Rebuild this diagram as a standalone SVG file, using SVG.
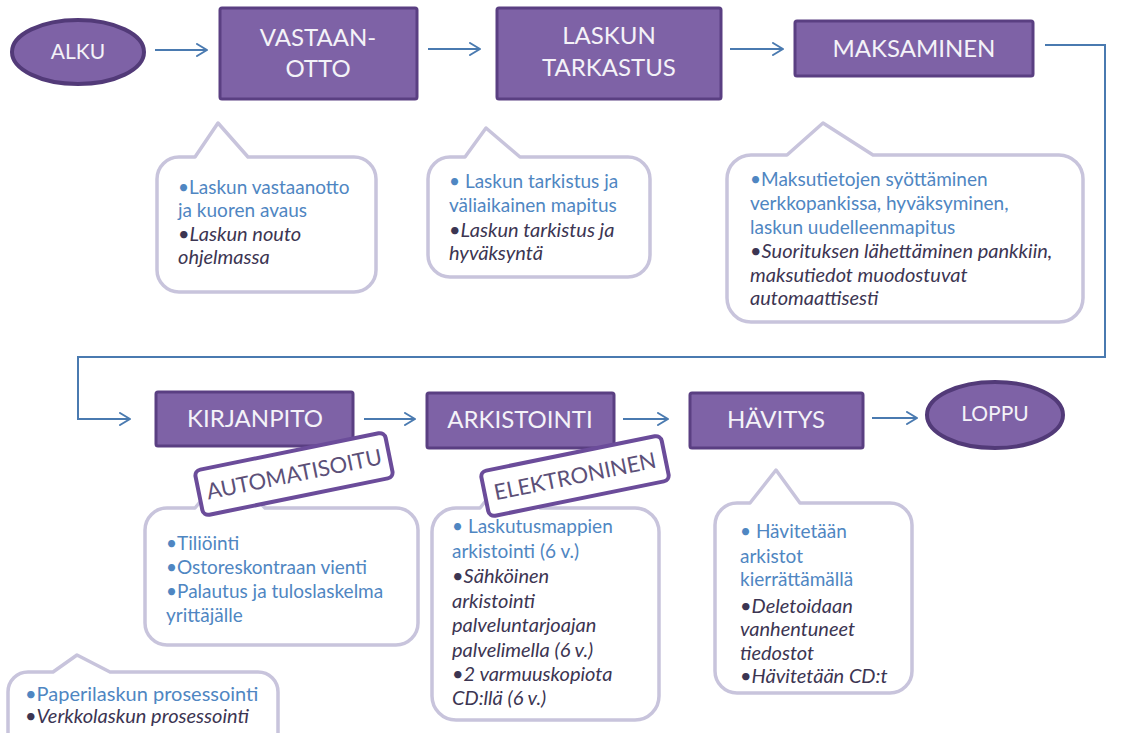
<svg xmlns="http://www.w3.org/2000/svg" width="1138" height="733" viewBox="0 0 1138 733">
  <defs>
    <marker id="arrow" viewBox="0 0 12 14" refX="11" refY="7" markerWidth="12" markerHeight="14" markerUnits="userSpaceOnUse" orient="auto">
      <path d="M1,1 L11,7 L1,13" fill="none" stroke="#4a7ab0" stroke-width="2" stroke-linecap="round" stroke-linejoin="round"/>
    </marker>
    <style>
      .box { fill: #7e62a6; stroke: #5a3f82; stroke-width: 3; }
      .term { fill: #7e62a6; stroke: #523a78; stroke-width: 4; }
      .boxtxt { font-family: Lato, "Liberation Sans", sans-serif; font-size: 24px; fill: #f4f2f8; text-anchor: middle; }
      .termtxt { font-family: Lato, "Liberation Sans", sans-serif; font-size: 21px; fill: #f4f2f8; text-anchor: middle; }
      .link { fill: none; stroke: #4a7ab0; stroke-width: 2; }
      .bubble { fill: #ffffff; stroke: #c8c4dc; stroke-width: 3.5; stroke-linejoin: round; }
      .note { font-family: Lato, "Liberation Sans", sans-serif; font-size: 19px; }
      .b { fill: #4f86c2; }
      .i { fill: #3c3552; font-style: italic; font-size: 20px; }
      .big { font-size: 20px; }
      .tag { fill: #ffffff; stroke: #6b4c9a; stroke-width: 4; }
      .tagtxt { font-family: Lato, "Liberation Sans", sans-serif; font-size: 22px; fill: #5c5078; text-anchor: middle; }
    </style>
  </defs>

  <!-- connectors -->
  <g id="connectors">
    <line class="link" x1="155" y1="50" x2="207" y2="50" marker-end="url(#arrow)"/>
    <line class="link" x1="428" y1="49" x2="480" y2="49" marker-end="url(#arrow)"/>
    <line class="link" x1="730" y1="49" x2="783" y2="49" marker-end="url(#arrow)"/>
    <polyline class="link" points="1045,45 1105,45 1105,357 78,357 78,419 130,419" marker-end="url(#arrow)"/>
    <line class="link" x1="364" y1="419" x2="415" y2="419" marker-end="url(#arrow)"/>
    <line class="link" x1="623" y1="419" x2="668" y2="419" marker-end="url(#arrow)"/>
    <line class="link" x1="872" y1="418" x2="917" y2="418" marker-end="url(#arrow)"/>
  </g>

  <!-- process row 1 -->
  <g id="alku">
    <ellipse class="term" cx="78" cy="52" rx="66" ry="32"/>
    <text class="termtxt" x="78" y="59">ALKU</text>
  </g>
  <g id="vastaanotto">
    <rect class="box" x="220" y="8" width="197" height="91" rx="2"/>
    <text class="boxtxt" x="318" y="46">VASTAAN-</text>
    <text class="boxtxt" x="318" y="77">OTTO</text>
  </g>
  <g id="tarkastus">
    <rect class="box" x="497" y="8" width="224" height="91" rx="2"/>
    <text class="boxtxt" x="609" y="44">LASKUN</text>
    <text class="boxtxt" x="609" y="76">TARKASTUS</text>
  </g>
  <g id="maksaminen">
    <rect class="box" x="795" y="21" width="238" height="55" rx="2"/>
    <text class="boxtxt" x="914" y="57">MAKSAMINEN</text>
  </g>

  <!-- notes row 1 -->
  <g id="note-vastaanotto">
    <path class="bubble" d="M179,157 L195,157 L218,123 L248,157 L354,157 A22,22 0 0 1 376,179 L376,270 A22,22 0 0 1 354,292 L179,292 A22,22 0 0 1 157,270 L157,179 A22,22 0 0 1 179,157 Z"/>
    <text class="note b" x="178" y="194">•Laskun vastaanotto</text>
    <text class="note b" x="178" y="217">ja kuoren avaus</text>
    <text class="note i" x="178" y="241">•Laskun nouto</text>
    <text class="note i" x="178" y="264">ohjelmassa</text>
  </g>
  <g id="note-tarkastus">
    <path class="bubble" d="M450,157 L465,157 L486,128 L520,157 L628,157 A22,22 0 0 1 650,179 L650,255 A22,22 0 0 1 628,277 L450,277 A22,22 0 0 1 428,255 L428,179 A22,22 0 0 1 450,157 Z"/>
    <text class="note b" x="449" y="188">• Laskun tarkistus ja</text>
    <text class="note b" x="449" y="212">väliaikainen mapitus</text>
    <text class="note i" x="449" y="237">•Laskun tarkistus  ja</text>
    <text class="note i" x="449" y="260">hyväksyntä</text>
  </g>
  <g id="note-maksaminen">
    <path class="bubble" d="M751,155 L787,155 L823,123 L873,155 L1059,155 A24,24 0 0 1 1083,179 L1083,298 A24,24 0 0 1 1059,322 L751,322 A24,24 0 0 1 727,298 L727,179 A24,24 0 0 1 751,155 Z"/>
    <text class="note b" x="750" y="186">•Maksutietojen syöttäminen</text>
    <text class="note b" x="750" y="210">verkkopankissa, hyväksyminen,</text>
    <text class="note b" x="750" y="234">laskun uudelleenmapitus</text>
    <text class="note i" x="750" y="258">•Suorituksen lähettäminen pankkiin,</text>
    <text class="note i" x="750" y="282">maksutiedot muodostuvat</text>
    <text class="note i" x="750" y="305">automaattisesti</text>
  </g>

  <!-- process row 2 -->
  <g id="kirjanpito">
    <rect class="box" x="156" y="392" width="197" height="54" rx="2"/>
    <text class="boxtxt" x="255" y="427">KIRJANPITO</text>
  </g>
  <g id="arkistointi">
    <rect class="box" x="427" y="393" width="187" height="55" rx="2"/>
    <text class="boxtxt" x="520" y="428">ARKISTOINTI</text>
  </g>
  <g id="havitys">
    <rect class="box" x="690" y="393" width="173" height="55" rx="2"/>
    <text class="boxtxt" x="776" y="428">HÄVITYS</text>
  </g>
  <g id="loppu">
    <ellipse class="term" cx="995" cy="415" rx="68" ry="33"/>
    <text class="termtxt" x="995" y="421">LOPPU</text>
  </g>

  <!-- notes row 2 -->
  <g id="note-kirjanpito">
    <path class="bubble" d="M167,508 L195,508 L228,468 L265,508 L396,508 A22,22 0 0 1 418,530 L418,623 A22,22 0 0 1 396,645 L167,645 A22,22 0 0 1 145,623 L145,530 A22,22 0 0 1 167,508 Z"/>
    <text class="note b" x="166" y="550">•Tiliöinti</text>
    <text class="note b" x="166" y="574">•Ostoreskontraan vienti</text>
    <text class="note b" x="166" y="598">•Palautus ja tuloslaskelma</text>
    <text class="note b" x="166" y="622">yrittäjälle</text>
  </g>
  <g id="note-arkistointi">
    <path class="bubble" d="M456,508 L480,508 L512,468 L540,508 L635,508 A24,24 0 0 1 659,532 L659,696 A24,24 0 0 1 635,720 L456,720 A24,24 0 0 1 432,696 L432,532 A24,24 0 0 1 456,508 Z"/>
    <text class="note b" x="452" y="533">• Laskutusmappien</text>
    <text class="note b" x="452" y="558">arkistointi (6 v.)</text>
    <text class="note i" x="452" y="583">•Sähköinen</text>
    <text class="note i" x="452" y="608">arkistointi</text>
    <text class="note i" x="452" y="632">palveluntarjoajan</text>
    <text class="note i" x="452" y="657">palvelimella (6 v.)</text>
    <text class="note i" x="452" y="681">•2 varmuuskopiota</text>
    <text class="note i" x="452" y="705">CD:llä (6 v.)</text>
  </g>
  <g id="note-havitys">
    <path class="bubble" d="M737,503 L750,503 L776,470 L800,503 L890,503 A22,22 0 0 1 912,525 L912,671 A22,22 0 0 1 890,693 L737,693 A22,22 0 0 1 715,671 L715,525 A22,22 0 0 1 737,503 Z"/>
    <text class="note b" x="740" y="538">• Hävitetään</text>
    <text class="note b" x="740" y="563">arkistot</text>
    <text class="note b" x="740" y="586">kierrättämällä</text>
    <text class="note i" x="740" y="613">•Deletoidaan</text>
    <text class="note i" x="740" y="636">vanhentuneet</text>
    <text class="note i" x="740" y="660">tiedostot</text>
    <text class="note i" x="740" y="683">•Hävitetään CD:t</text>
  </g>
  <g id="legend">
    <path class="bubble" d="M28,672 L53,672 L77,655 L110,672 L258,672 A20,20 0 0 1 278,692 L278,760 L8,760 L8,692 A20,20 0 0 1 28,672 Z"/>
    <text class="note b big" x="25" y="701">•Paperilaskun prosessointi</text>
    <text class="note i big" x="25" y="723">•Verkkolaskun prosessointi</text>
  </g>

  <!-- tags -->
  <g id="tag-automatisoitu" transform="translate(294 474) rotate(-11.5)">
    <rect class="tag" x="-97" y="-23" width="194" height="46" rx="6"/>
    <text class="tagtxt" x="0" y="8">AUTOMATISOITU</text>
  </g>
  <g id="tag-elektroninen" transform="translate(575 476) rotate(-11.5)">
    <rect class="tag" x="-92" y="-23" width="184" height="46" rx="6"/>
    <text class="tagtxt" x="0" y="8">ELEKTRONINEN</text>
  </g>
</svg>
